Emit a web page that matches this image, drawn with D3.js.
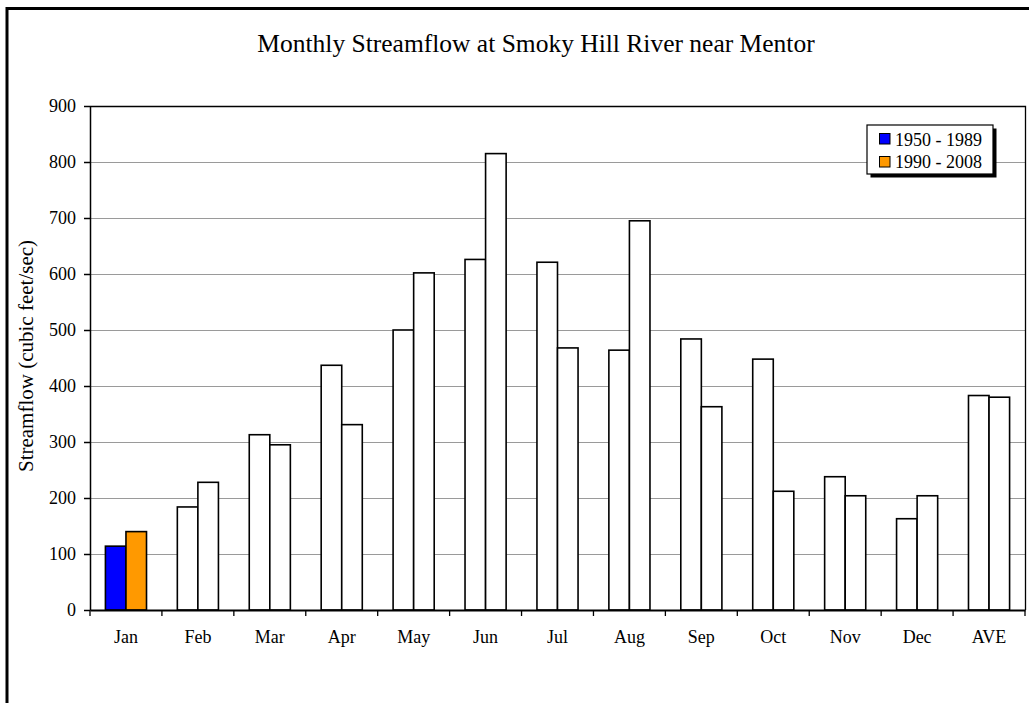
<!DOCTYPE html>
<html><head><meta charset="utf-8">
<script src="https://cdn.jsdelivr.net/npm/d3@7"></script>
<style>html,body{margin:0;padding:0;background:#fff;overflow:hidden}</style>
</head><body>
<svg id="c" width="1029" height="703"></svg>
<script>
const categories = ["Jan","Feb","Mar","Apr","May","Jun","Jul","Aug","Sep","Oct","Nov","Dec","AVE"];
const series1950 = [114,184,313,437,500,626,621,464,484,448,238,163,383];
const series1990 = [140,228,295,331,602,815,468,695,363,212,204,204,380];
const seriesNames = ["1950 - 1989","1990 - 2008"];
const yTicks = [0,100,200,300,400,500,600,700,800,900];

const FONT = '"Liberation Serif"';
const svg = d3.select("#c");
const m = {left:90, right:1025, top:106, bottom:610};

// outer border
svg.append("rect").attr("x",7).attr("y",8.5).attr("width",1100).attr("height",1000)
  .attr("fill","#fff").attr("stroke","#000").attr("stroke-width",3);

const x = d3.scaleBand().domain(categories).range([m.left,m.right]).paddingInner(0).paddingOuter(0);
const y = d3.scaleLinear().domain([0,900]).range([m.bottom,m.top]);
const inner = d3.scaleBand().domain([0,1]).range([0,x.bandwidth()]).paddingInner(0).paddingOuter(0.75);

// gridlines
svg.append("g").selectAll("line").data(yTicks.filter(d=>d>0 && d<900)).join("line")
  .attr("x1",m.left).attr("x2",m.right).attr("y1",d=>Math.round(y(d))+0.5).attr("y2",d=>Math.round(y(d))+0.5)
  .attr("stroke","#9a9a9a").attr("stroke-width",1);

// plot border top/right
svg.append("path").attr("d",`M${m.left},${m.top+0.5}H${m.right+0.5}V${m.bottom}`)
  .attr("fill","none").attr("stroke","#000").attr("stroke-width",1.3);

// bars
const data = categories.map((c,i)=>({c, v:[series1950[i],series1990[i]]}));
const fills = ["#0000ff","#ff9900"];
const g = svg.append("g");
data.forEach((d,i)=>{
  d.v.forEach((v,j)=>{
    g.append("rect")
      .attr("x",x(d.c)+inner(j))
      .attr("y",y(v))
      .attr("width",inner.bandwidth())
      .attr("height",y(0)-y(v))
      .attr("fill", i===0 ? fills[j] : "#fff")
      .attr("stroke","#000").attr("stroke-width",1.6);
  });
});

// y axis
const yAxis = d3.axisLeft(y).tickValues(yTicks).tickSize(6).tickSizeOuter(0).tickPadding(8);
const ya = svg.append("g").attr("transform",`translate(${m.left},0)`).call(yAxis);
ya.selectAll("text").style("font-family",FONT).style("font-size","18px").attr("fill","#000");
ya.selectAll("line,path").attr("stroke","#000").attr("stroke-width",1.5);

// x axis
const xAxis = d3.axisBottom(x).tickSize(0).tickPadding(20);
const xa = svg.append("g").attr("transform",`translate(0,${m.bottom})`).call(xAxis);
xa.select(".domain").attr("stroke","#000").attr("stroke-width",2);
xa.selectAll("text").style("font-family",FONT).style("font-size","18px").attr("fill","#000");
// tick marks between categories
const bounds = categories.map(c=>x(c)).concat([m.right]);
svg.append("g").selectAll("line").data(bounds).join("line")
  .attr("x1",d=>d).attr("x2",d=>d).attr("y1",m.bottom).attr("y2",m.bottom+6)
  .attr("stroke","#000").attr("stroke-width",1.3);

// title
svg.append("text").attr("x",536).attr("y",52).attr("text-anchor","middle")
  .style("font-family",FONT).style("font-size","25.5px").text("Monthly Streamflow at Smoky Hill River near Mentor");

// y label
svg.append("text").attr("transform","translate(33,356) rotate(-90)").attr("text-anchor","middle")
  .style("font-family",FONT).style("font-size","21px").text("Streamflow (cubic feet/sec)");

// legend
const lg = svg.append("g").attr("transform","translate(867,125)");
lg.append("rect").attr("x",3.5).attr("y",3.5).attr("width",126).attr("height",49).attr("fill","#000");
lg.append("rect").attr("x",0).attr("y",0).attr("width",126).attr("height",49).attr("fill","#fff").attr("stroke","#000").attr("stroke-width",1.2);
seriesNames.forEach((n,i)=>{
  lg.append("rect").attr("x",12.5).attr("y",8.5+i*23).attr("width",10.5).attr("height",10.5)
    .attr("fill",fills[i]).attr("stroke","#000").attr("stroke-width",1);
  lg.append("text").attr("x",28).attr("y",20.7+i*22.5).style("font-family",FONT).style("font-size","18px").text(n);
});
</script>
</body></html>
